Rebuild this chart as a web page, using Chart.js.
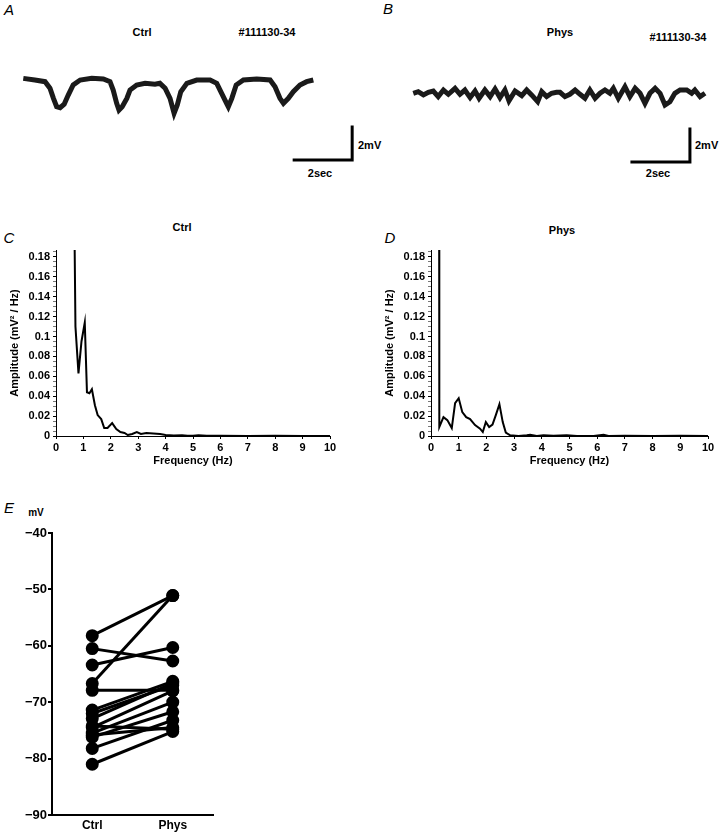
<!DOCTYPE html>
<html lang="en">
<head>
  <meta charset="UTF-8" />
  <title>Ctrl vs Phys</title>
  <script src="https://cdn.jsdelivr.net/npm/chart.js"></script>
  <style>
    body { margin: 0; background: #fff; }
    #fig { position: relative; width: 720px; height: 832px; overflow: hidden; font-family: 'Liberation Sans', Arial, sans-serif; color: #000; }
    #fig canvas { position: absolute; }
    .lbl { position: absolute; transform: translate(-50%, -50%); white-space: nowrap; font-size: 11px; font-weight: bold; }
    .left { transform: translate(0, -50%); }
    .panel { font-size: 15px; font-style: italic; font-weight: normal; }
  </style>
</head>
<body>
  <div id="fig">
    <div class="lbl panel" style="left:9px; top:9px">A</div>
    <div class="lbl" style="left:142px; top:32px">Ctrl</div>
    <div class="lbl" style="left:267px; top:32px">#111130-34</div>
    <div class="lbl left" style="left:358px; top:145px">2mV</div>
    <div class="lbl" style="left:320px; top:173px">2sec</div>

    <div class="lbl panel" style="left:388px; top:8px">B</div>
    <div class="lbl" style="left:560px; top:32px">Phys</div>
    <div class="lbl" style="left:678px; top:37px">#111130-34</div>
    <div class="lbl left" style="left:695px; top:145px">2mV</div>
    <div class="lbl" style="left:658px; top:173px">2sec</div>

    <div class="lbl panel" style="left:9px; top:237px">C</div>
    <div class="lbl" style="left:182px; top:227px">Ctrl</div>
    <div class="lbl panel" style="left:390px; top:237px">D</div>
    <div class="lbl" style="left:562px; top:230px">Phys</div>

    <div class="lbl panel" style="left:9px; top:507px">E</div>
    <div class="lbl" style="left:36px; top:512px; font-size:10px">mV</div>

    <canvas id="traceA" width="360" height="130" style="left:0; top:50px"></canvas>
    <canvas id="traceB" width="360" height="130" style="left:360px; top:50px"></canvas>
    <canvas id="specC" width="345" height="240" style="left:0; top:240px"></canvas>
    <canvas id="specD" width="345" height="240" style="left:375px; top:240px"></canvas>
    <canvas id="pairE" width="230" height="312" style="left:0; top:520px"></canvas>
  </div>

  <script>
    // membrane potential traces (sec, mV relative to baseline)
    const ctrlTraceT = [0.02, 0.42, 0.77, 0.94, 1.06, 1.17, 1.29, 1.43, 1.57, 1.74, 1.98, 2.38, 2.78, 3.01, 3.12, 3.24, 3.32, 3.43, 3.59, 3.70, 3.93, 4.22, 4.56, 4.73, 4.91, 5.08, 5.22, 5.33, 5.45, 5.66, 6.00, 6.46, 6.69, 6.86, 7.03, 7.09, 7.21, 7.36, 7.61, 8.07, 8.53, 8.70, 8.87, 8.99, 9.16, 9.33, 9.56, 9.79, 10.02];
    const ctrlTraceMV = [-0.02, -0.12, -0.22, -0.62, -1.23, -1.74, -1.80, -1.59, -1.03, -0.42, -0.12, -0.02, -0.06, -0.22, -0.73, -1.53, -1.94, -1.74, -1.23, -0.73, -0.42, -0.32, -0.38, -0.32, -0.62, -1.23, -2.14, -1.64, -0.83, -0.32, -0.12, -0.12, -0.32, -0.93, -1.53, -1.74, -1.23, -0.42, -0.12, -0.06, -0.12, -0.53, -1.23, -1.53, -1.23, -0.83, -0.42, -0.22, -0.12];
    const physTraceT = [0.02, 0.19, 0.37, 0.54, 0.71, 0.88, 1.06, 1.23, 1.46, 1.63, 1.80, 1.98, 2.15, 2.29, 2.49, 2.67, 2.84, 3.01, 3.18, 3.32, 3.53, 3.76, 3.93, 4.10, 4.31, 4.45, 4.62, 4.79, 4.96, 5.08, 5.25, 5.42, 5.60, 5.77, 5.94, 6.11, 6.29, 6.46, 6.63, 6.80, 6.92, 7.09, 7.32, 7.49, 7.67, 7.84, 8.01, 8.18, 8.36, 8.53, 8.70, 8.87, 9.04, 9.22, 9.45, 9.62, 9.73, 9.91, 10.08];
    const physTraceMV = [0, 0.10, -0.10, 0.06, 0.14, -0.20, 0.20, -0.06, 0.30, -0.06, 0.20, -0.26, 0.14, -0.30, 0.20, -0.20, 0.26, -0.26, 0.20, -0.46, 0.14, -0.14, 0.20, -0.10, -0.51, 0.10, -0.20, 0, 0.06, 0.06, -0.20, -0.06, 0.20, -0.06, -0.30, 0.20, -0.30, 0, 0.20, 0, 0.30, -0.30, 0.40, -0.20, 0.30, 0, -0.61, 0, 0.30, 0, -0.71, -0.51, 0, 0.20, 0.20, 0, 0.20, -0.20, 0];

    // scale bars: 2 sec, 2 mV
    const barAT = [9.36, 11.36, 11.36];
    const barAMV = [-4.97, -4.97, -2.97];
    const barBT = [7.56, 9.56, 9.56];
    const barBMV = [-4.16, -4.16, -2.16];

    // power spectra (Hz, mV²/Hz)
    const freqC = [0.64, 0.71, 0.82, 0.93, 1.05, 1.13, 1.22, 1.31, 1.42, 1.52, 1.65, 1.76, 1.88, 2.05, 2.2, 2.35, 2.5, 2.62, 2.78, 2.95, 3.1, 3.3, 3.55, 3.8, 4.0, 4.3, 4.6, 4.8, 5.0, 5.2, 5.5, 6.0, 7.0, 8.0, 9.0, 10.0];
    const ampC = [0.30, 0.11, 0.063, 0.095, 0.114, 0.044, 0.043, 0.047, 0.031, 0.021, 0.017, 0.008, 0.008, 0.013, 0.007, 0.004, 0.003, 0.001, 0.002, 0.004, 0.002, 0.003, 0.0025, 0.002, 0.001, 0.0005, 0.0008, 0.0003, 0.0002, 0.0008, 0.0003, 0.0002, 0.0001, 0.0002, 0.0001, 0.0001];
    const freqD = [0.29, 0.30, 0.45, 0.59, 0.75, 0.87, 1.0, 1.13, 1.27, 1.41, 1.59, 1.77, 1.87, 1.98, 2.1, 2.22, 2.34, 2.47, 2.59, 2.7, 2.86, 3.16, 3.46, 3.58, 3.82, 4.06, 4.42, 4.9, 5.27, 5.87, 6.23, 6.41, 7.0, 8.0, 9.0, 10.0];
    const ampD = [0.40, 0.009, 0.019, 0.016, 0.008, 0.033, 0.038, 0.024, 0.019, 0.017, 0.011, 0.0074, 0.004, 0.014, 0.009, 0.0115, 0.021, 0.032, 0.014, 0.0034, 0.0007, 0, 0.0007, 0.0013, 0, 0.0007, 0.0003, 0.0007, 0, 0, 0.0013, 0, 0.0002, 0, 0.0002, 0];
    const ampTicks = [0, 0.02, 0.04, 0.06, 0.08, 0.1, 0.12, 0.14, 0.16, 0.18];
    const ampMinorStep = 0.005;

    // resting potential per cell (mV)
    const groups = ['Ctrl', 'Phys'];
    const ctrlRest = [-58.2, -66.7, -60.5, -63.4, -67.9, -71.4, -72.0, -72.9, -74.2, -74.5, -75.5, -75.8, -76.2, -78.2, -81.0];
    const physRest = [-51.1, -51.1, -62.7, -60.3, -67.9, -66.3, -67.0, -66.6, -74.8, -68.0, -70.0, -74.5, -71.7, -73.2, -75.2];

    Chart.defaults.font.family = "'Liberation Sans', Arial, sans-serif";
    Chart.defaults.font.size = 11;
    Chart.defaults.font.weight = 'bold';
    Chart.defaults.color = '#000';

    const toXY = (xs, ys) => xs.map((x, i) => ({ x: x, y: ys[i] }));

    function drawTrace(id, t, mv, barT, barMV, xRange, yRange) {
      new Chart(document.getElementById(id), {
        type: 'line',
        data: {
          datasets: [
            { data: toXY(t, mv), borderColor: '#1a1a1a', borderWidth: 5, pointRadius: 0, tension: 0 },
            { data: toXY(barT, barMV), borderColor: '#000', borderWidth: 3, pointRadius: 0, borderCapStyle: 'square', borderJoinStyle: 'miter', clip: false }
          ]
        },
        options: {
          responsive: false,
          animation: false,
          devicePixelRatio: 1,
          layout: { padding: 0 },
          plugins: { legend: { display: false }, tooltip: { enabled: false } },
          scales: {
            x: { type: 'linear', display: false, min: xRange[0], max: xRange[1] },
            y: { display: false, min: yRange[0], max: yRange[1] }
          }
        }
      });
    }

    drawTrace('traceA', ctrlTraceT, ctrlTraceMV, barAT, barAMV, [-0.783, 11.63], [-6.18, 1.70]);
    drawTrace('traceB', physTraceT, physTraceMV, barBT, barBMV, [-1.817, 10.597], [-5.255, 2.624]);

    // major ticks are labelled, the 0.005 steps in between only get a tick mark
    function ampAxisTicks() {
      const out = [];
      for (let i = 0; i * ampMinorStep <= 0.187; i++) out.push({ value: +(i * ampMinorStep).toFixed(3) });
      return out;
    }
    const isMajor = v => ampTicks.some(m => Math.abs(m - v) < 1e-6);

    function drawSpectrum(id, freq, amp, padRight) {
      new Chart(document.getElementById(id), {
        type: 'line',
        data: {
          datasets: [{ data: toXY(freq, amp), borderColor: '#000', borderWidth: 2, pointRadius: 0, tension: 0 }]
        },
        options: {
          responsive: false,
          animation: false,
          devicePixelRatio: 1,
          layout: { padding: { left: 4, top: 10, right: padRight, bottom: 8 } },
          plugins: { legend: { display: false }, tooltip: { enabled: false } },
          scales: {
            x: {
              type: 'linear', min: 0, max: 10,
              ticks: { stepSize: 1, autoSkip: false, maxRotation: 0, padding: 2 },
              grid: { drawOnChartArea: false, tickLength: 3, color: '#000' },
              border: { color: '#000', width: 1 },
              title: { display: true, text: 'Frequency (Hz)', padding: { top: 2, bottom: 4 } },
              afterFit: s => { s.height = 36; }
            },
            y: {
              min: 0, max: 0.187,
              afterBuildTicks: s => { s.ticks = ampAxisTicks(); },
              ticks: { autoSkip: false, padding: 3, callback: v => isMajor(v) ? String(+v.toFixed(3)) : '' },
              grid: { drawOnChartArea: false, tickLength: 3, color: ctx => ctx.tick && isMajor(ctx.tick.value) ? '#000' : '#777' },
              border: { color: '#000', width: 1 },
              title: { display: true, text: 'Amplitude (mV² / Hz)', padding: { top: 4, bottom: 2 } },
              afterFit: s => { s.width = 52; }
            }
          }
        }
      });
    }

    drawSpectrum('specC', freqC, ampC, 15);
    drawSpectrum('specD', freqD, ampD, 12);

    new Chart(document.getElementById('pairE'), {
      type: 'line',
      data: {
        labels: groups,
        datasets: ctrlRest.map((c, i) => ({
          data: [c, physRest[i]],
          borderColor: '#000',
          borderWidth: 3,
          pointRadius: 5,
          pointBackgroundColor: '#000',
          pointBorderColor: '#000',
          clip: false
        }))
      },
      options: {
        responsive: false,
        animation: false,
        devicePixelRatio: 1,
        layout: { padding: { left: 2, top: 13, right: 17, bottom: 0 } },
        plugins: { legend: { display: false }, tooltip: { enabled: false } },
        scales: {
          x: {
            offset: true,
            grid: { display: false, drawTicks: false },
            border: { color: '#000', width: 2 },
            ticks: { padding: 3, font: { size: 12 } },
            afterFit: s => { s.height = 17; }
          },
          y: {
            min: -90, max: -40,
            ticks: { stepSize: 10, padding: 1, font: { size: 13 }, callback: v => String(v).replace('-', '\u2212') },
            grid: { drawOnChartArea: false, tickLength: 4, color: '#000', lineWidth: 2 },
            border: { color: '#000', width: 2 },
            afterFit: s => { s.width = 50; }
          }
        }
      }
    });
  </script>
</body>
</html>
